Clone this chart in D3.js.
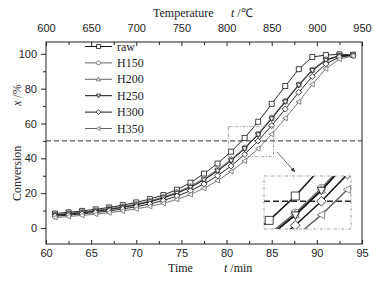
<!DOCTYPE html>
<html>
<head>
<meta charset="utf-8">
<script src="https://cdn.jsdelivr.net/npm/d3@7"></script>
<style>
  body { margin: 0; background: #fff; }
  svg { display: block; font-family: "Liberation Serif", "Times New Roman", serif; }
  .tick-label { font-size: 11px; fill: #222; }
  .axis-title { font-size: 12px; fill: #222; }
  .legend-text { font-size: 12px; fill: #222; }
</style>
</head>
<body>
<div id="chart"></div>
<script>
// sample times (min), one point every 15 °C
const times = [61, 62.5, 64, 65.5, 67, 68.5, 70, 71.5, 73, 74.5, 76, 77.5, 79, 80.5, 82, 83.5, 85, 86.5, 88, 89.5, 91, 92.5, 94];

const raw  = [8.3, 9.0, 9.8, 10.7, 11.8, 13.1, 14.7, 16.6, 18.9, 22.0, 26.0, 31.2, 37.0, 43.8, 51.7, 61.0, 71.3, 81.5, 91.2, 98.2, 99.3, 99.7, 99.5];
const h150 = [7.8, 8.5, 9.2, 10.1, 11.1, 12.3, 13.8, 15.6, 17.8, 20.6, 24.0, 28.4, 33.5, 39.4, 46.2, 54.2, 63.4, 73.0, 82.5, 91.0, 96.8, 99.0, 99.3];
const h200 = [7.5, 8.2, 8.9, 9.8, 10.8, 12.0, 13.4, 15.2, 17.4, 20.1, 23.5, 27.8, 32.9, 38.8, 45.7, 53.7, 62.9, 72.6, 82.2, 90.6, 96.5, 98.9, 99.3];
const h250 = [7.3, 8.0, 8.7, 9.6, 10.6, 11.8, 13.2, 15.0, 17.2, 19.9, 23.3, 27.6, 32.7, 38.6, 45.5, 53.5, 62.7, 72.4, 82.0, 90.4, 96.3, 98.8, 99.2];
const h300 = [6.8, 7.4, 8.1, 8.9, 9.8, 10.9, 12.2, 13.8, 15.8, 18.3, 21.4, 25.3, 30.0, 35.6, 42.2, 50.0, 58.8, 68.3, 77.9, 87.0, 94.2, 98.2, 99.0];
const h350 = [6.0, 6.6, 7.2, 7.9, 8.8, 9.8, 11.0, 12.4, 14.2, 16.4, 19.2, 22.8, 27.2, 32.4, 38.5, 45.6, 53.8, 63.0, 72.5, 82.5, 91.5, 97.0, 98.8];

const seriesNames = ["raw", "H150", "H200", "H250", "H300", "H350"];
const seriesValues = [raw, h150, h200, h250, h300, h350];
const seriesColors = ["#111", "#666", "#666", "#111", "#111", "#666"];
const seriesMarkers = ["square", "circle", "triUp", "triDown", "diamond", "triLeft"];

const timeTicks = [60, 65, 70, 75, 80, 85, 90, 95];
const tempTicks = [600, 650, 700, 750, 800, 850, 900, 950];
const convTicks = [0, 20, 40, 60, 80, 100];

const width = 382, height = 281;
const margin = { left: 46, right: 20, top: 42, bottom: 37 };

const svg = d3.select("#chart").append("svg")
    .attr("width", width)
    .attr("height", height);

svg.append("rect").attr("width", width).attr("height", height).attr("fill", "#fff");

const xScale = d3.scaleLinear().domain([60, 95]).range([margin.left, width - margin.right]);
const tScale = d3.scaleLinear().domain([600, 950]).range([margin.left, width - margin.right]);
const yScale = d3.scaleLinear().domain([-9.2, 106.8]).range([height - margin.bottom, margin.top]);

const x0 = margin.left, x1 = width - margin.right;
const y0 = height - margin.bottom, y1 = margin.top;

// marker path builder
const markerPath = (type, s) => {
    const h = s / 2;
    switch (type) {
        case "square": return `M${-h},${-h}H${h}V${h}H${-h}Z`;
        case "circle": return `M${h},0A${h},${h} 0 1,1 ${-h},0A${h},${h} 0 1,1 ${h},0Z`;
        case "triUp": return `M0,${-h * 1.1}L${h},${h * 0.8}L${-h},${h * 0.8}Z`;
        case "triDown": return `M0,${h * 1.1}L${h},${-h * 0.8}L${-h},${-h * 0.8}Z`;
        case "diamond": return `M0,${-h * 1.2}L${h * 1.2},0L0,${h * 1.2}L${-h * 1.2},0Z`;
        case "triLeft": return `M${-h * 1.1},0L${h * 0.8},${-h}L${h * 0.8},${h}Z`;
    }
};

const drawSeries = (g, xs, ys, lw, ms) => {
    seriesValues.forEach((vals, i) => {
        const pts = times.map((t, j) => ({ t: t, v: vals[j] }));
        const line = d3.line().x(d => xs(d.t)).y(d => ys(d.v));
        g.append("path")
            .attr("d", line(pts))
            .attr("fill", "none")
            .attr("stroke", seriesColors[i])
            .attr("stroke-width", lw);
        g.selectAll(null)
            .data(pts)
            .join("path")
            .attr("d", markerPath(seriesMarkers[i], ms))
            .attr("transform", d => `translate(${xs(d.t)},${ys(d.v)})`)
            .attr("fill", "#fff")
            .attr("stroke", seriesColors[i])
            .attr("stroke-width", 0.8);
    });
};

// dashed 50% reference line
svg.append("line")
    .attr("x1", x0).attr("x2", x1)
    .attr("y1", yScale(50)).attr("y2", yScale(50))
    .attr("stroke", "#555")
    .attr("stroke-width", 1.2)
    .attr("stroke-dasharray", "5 3");

// data
const plot = svg.append("g");
drawSeries(plot, xScale, yScale, 0.9, 5);

// frame
svg.append("rect")
    .attr("x", x0).attr("y", y1)
    .attr("width", x1 - x0).attr("height", y0 - y1)
    .attr("fill", "none")
    .attr("stroke", "#222")
    .attr("stroke-width", 1);

// bottom axis (ticks inward)
const bottomAxis = d3.axisBottom(xScale)
    .tickValues(d3.range(60, 95.01, 2.5))
    .tickSizeInner(-4).tickSizeOuter(0)
    .tickFormat(d => timeTicks.includes(d) ? d : "");
const gb = svg.append("g").attr("transform", `translate(0,${y0})`).call(bottomAxis);
gb.selectAll(".tick line").attr("y2", d => timeTicks.includes(d) ? -4 : -3);
gb.selectAll("text").attr("class", "tick-label").attr("y", 13).attr("dy", null);

// top axis (ticks inward)
const topAxis = d3.axisTop(tScale)
    .tickValues(d3.range(600, 950.01, 25))
    .tickSizeInner(-4).tickSizeOuter(0)
    .tickFormat(d => tempTicks.includes(d) ? d : "");
const gt = svg.append("g").attr("transform", `translate(0,${y1})`).call(topAxis);
gt.selectAll(".tick line").attr("y2", d => tempTicks.includes(d) ? 4 : 3);
gt.selectAll("text").attr("class", "tick-label").attr("y", -10);

// left axis (ticks outward)
const leftAxis = d3.axisLeft(yScale)
    .tickValues(d3.range(0, 100.01, 10))
    .tickSizeInner(4).tickSizeOuter(0)
    .tickFormat(d => convTicks.includes(d) ? d : "");
const gl = svg.append("g").attr("transform", `translate(${x0},0)`).call(leftAxis);
gl.selectAll(".tick line").attr("x2", d => convTicks.includes(d) ? -5 : -3);
gl.selectAll("text").attr("class", "tick-label").attr("x", -9);

[gb, gt, gl].forEach(g => {
    g.select(".domain").remove();
    g.selectAll(".tick line").attr("stroke", "#222");
    g.selectAll("text").attr("font-family", null).attr("font-size", null);
});

// axis titles
const bottomTitle = svg.append("text").attr("class", "axis-title").attr("y", 272);
bottomTitle.append("tspan").attr("x", 168).text("Time");
bottomTitle.append("tspan").attr("x", 224).attr("font-style", "italic").text("t");
bottomTitle.append("tspan").text(" /min");

const topTitle = svg.append("text").attr("class", "axis-title").attr("y", 17);
topTitle.append("tspan").attr("x", 153).text("Temperature");
topTitle.append("tspan").attr("x", 231).attr("font-style", "italic").text("t");
topTitle.append("tspan").text(" /℃");

const leftTitle = svg.append("text").attr("class", "axis-title")
    .attr("transform", "translate(21,0) rotate(-90)");
leftTitle.append("tspan").attr("x", -201).text("Conversion");
leftTitle.append("tspan").attr("x", -106).attr("font-style", "italic").text("x");
leftTitle.append("tspan").text(" /%");

// legend
const legendTop = 46.5, legendStep = 16.4;
seriesNames.forEach((name, i) => {
    const ly = legendTop + i * legendStep;
    svg.append("line")
        .attr("x1", 85).attr("x2", 112)
        .attr("y1", ly).attr("y2", ly)
        .attr("stroke", seriesColors[i])
        .attr("stroke-width", 1);
    svg.append("path")
        .attr("d", markerPath(seriesMarkers[i], 4))
        .attr("transform", `translate(98.5,${ly})`)
        .attr("fill", "#fff")
        .attr("stroke", seriesColors[i])
        .attr("stroke-width", 0.8);
    svg.append("text")
        .attr("class", "legend-text")
        .attr("x", 117).attr("y", ly + 4)
        .text(name);
});

// zoom box, arrow and inset
const zoomT = [80.2, 85.2], zoomV = [41.0, 58.2];
svg.append("rect")
    .attr("x", xScale(zoomT[0])).attr("y", yScale(zoomV[1]))
    .attr("width", xScale(zoomT[1]) - xScale(zoomT[0]))
    .attr("height", yScale(zoomV[0]) - yScale(zoomV[1]))
    .attr("fill", "none")
    .attr("stroke", "#888")
    .attr("stroke-width", 0.8)
    .attr("stroke-dasharray", "3 1.5 1 1.5");

const inset = { x: 264, y: 176, w: 87, h: 53 };

const defs = svg.append("defs");
defs.append("marker")
    .attr("id", "arrow")
    .attr("viewBox", "0 0 10 10")
    .attr("refX", 9).attr("refY", 5)
    .attr("markerWidth", 6).attr("markerHeight", 6)
    .attr("orient", "auto")
    .append("path")
    .attr("d", "M0,1L10,5L0,9Z")
    .attr("fill", "#333");
defs.append("clipPath").attr("id", "inset-clip")
    .append("rect")
    .attr("x", inset.x).attr("y", inset.y)
    .attr("width", inset.w).attr("height", inset.h);

svg.append("line")
    .attr("x1", 277).attr("y1", 152)
    .attr("x2", 295).attr("y2", 172)
    .attr("stroke", "#444")
    .attr("stroke-width", 0.8)
    .attr("marker-end", "url(#arrow)");

svg.append("rect")
    .attr("x", inset.x).attr("y", inset.y)
    .attr("width", inset.w).attr("height", inset.h)
    .attr("fill", "#fff");

const xi = d3.scaleLinear().domain(zoomT).range([inset.x, inset.x + inset.w]);
const yi = d3.scaleLinear().domain(zoomV).range([inset.y + inset.h, inset.y]);

const insetG = svg.append("g").attr("clip-path", "url(#inset-clip)");
insetG.append("line")
    .attr("x1", inset.x).attr("x2", inset.x + inset.w)
    .attr("y1", yi(50)).attr("y2", yi(50))
    .attr("stroke", "#222")
    .attr("stroke-width", 1.4)
    .attr("stroke-dasharray", "6 3");
drawSeries(insetG, xi, yi, 1.5, 8);

svg.append("rect")
    .attr("x", inset.x).attr("y", inset.y)
    .attr("width", inset.w).attr("height", inset.h)
    .attr("fill", "none")
    .attr("stroke", "#888")
    .attr("stroke-width", 0.8)
    .attr("stroke-dasharray", "3 1.5 1 1.5");
</script>
</body>
</html>
